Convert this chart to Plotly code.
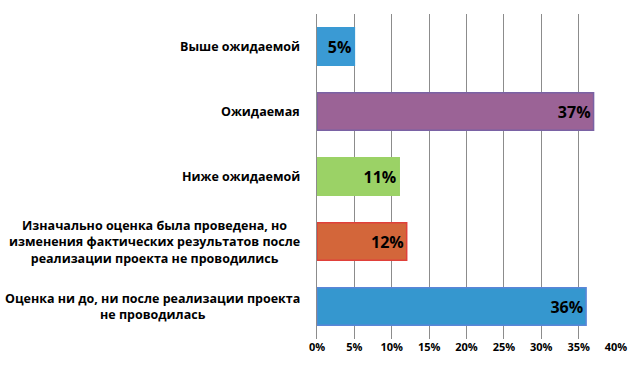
import plotly.graph_objects as go

categories = [
    "Выше ожидаемой",
    "Ожидаемая",
    "Ниже ожидаемой",
    "Изначально оценка была проведена, но<br>изменения фактических результатов после<br>реализации проекта не проводились",
    "Оценка ни до, ни после реализации проекта<br>не проводилась",
]
values = [5, 37, 11, 12, 36]
labels = ["5%", "37%", "11%", "12%", "36%"]
colors = ["#3a9ad4", "#9b6396", "#9bd266", "#d3663a", "#3597cf"]
line_colors = ["#3a9ad4", "#7a62a4", "#9bd266", "#e0403a", "#5a86d8"]
ticks = [0, 5, 10, 15, 20, 25, 30, 35, 40]
tick_text = ["0%", "5%", "10%", "15%", "20%", "25%", "30%", "35%", "40%"]

fig = go.Figure()
fig.add_trace(go.Bar(
    x=values, y=categories, orientation="h",
    marker=dict(color=colors, line=dict(color=line_colors, width=1.5)),
    width=0.58,
    text=labels, textposition="inside", insidetextanchor="end",
    textfont=dict(family="Open Sans", size=16, color="black", weight="bold"),
    constraintext="none",
))

for c in categories:
    fig.add_annotation(
        x=0, xref="paper", y=c, yref="y", text=c, showarrow=False,
        xanchor="right", align="center", xshift=-15,
        font=dict(family="Open Sans", size=12.5, color="black", weight="bold"),
    )

fig.update_layout(
    width=640, height=371,
    margin=dict(l=317, r=24, t=14, b=32, autoexpand=False),
    paper_bgcolor="white", plot_bgcolor="white",
    showlegend=False,
    xaxis=dict(range=[0, 40], tickvals=ticks, ticktext=tick_text, automargin=False,
               showgrid=True, gridcolor="#8c8c8c", gridwidth=1, zeroline=False,
               tickfont=dict(family="Open Sans", size=11, color="black", weight="bold"),
               showline=False, ticks=""),
    yaxis=dict(autorange="reversed", showticklabels=False, showline=True, automargin=False,
               linecolor="#8c8c8c", linewidth=1, ticks=""),
)
fig.write_html("out.html", config={"displayModeBar": False},
               post_script="document.body.style.margin='0';")
